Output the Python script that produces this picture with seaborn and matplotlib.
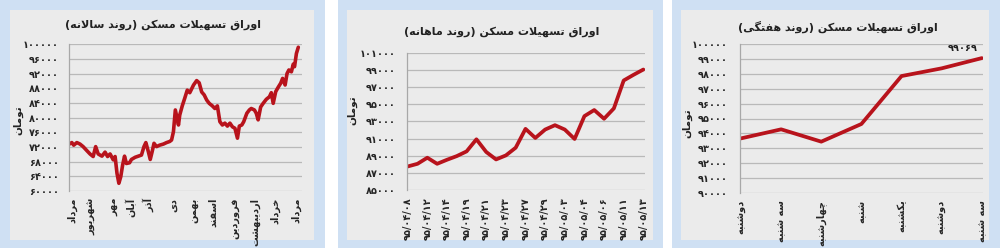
import matplotlib
matplotlib.use("Agg")
import matplotlib.pyplot as plt
from matplotlib.patches import Rectangle
import seaborn as sns
import pandas as pd

# ---------------- data ----------------
titles = ["اوراق تسهیلات مسکن (روند سالانه)",
          "اوراق تسهیلات مسکن (روند ماهانه)",
          "اوراق تسهیلات مسکن (روند هفتگی)"]
unit_label = "تومان"

# yearly panel (day offset, price)
year_days = [0, 4, 7, 12, 17, 22, 28, 33, 38, 42, 46, 52, 57, 61, 65, 70, 73, 76, 79, 82,
             85, 88, 91, 96, 99, 105, 110, 115, 119, 122, 126, 129, 132, 135, 139, 144, 150,
             155, 160, 163, 166, 169, 174, 176, 180, 184, 188, 192, 198, 203, 207, 211, 215,
             219, 223, 228, 232, 236, 240, 244, 248, 252, 256, 260, 264, 268, 271, 275, 278,
             283, 287, 290, 295, 298, 301, 305, 309, 314, 319, 322, 325, 329, 333, 337, 340,
             344, 347, 350, 354, 357, 359, 362, 365]
year_values = [72800, 73200, 72500, 73200, 72800, 72100, 71000, 70100, 69400, 72100, 70100,
               69500, 70600, 69400, 70100, 68500, 69400, 64800, 62100, 63900, 67100, 69500,
               67500, 67700, 68600, 69200, 69500, 69800, 72100, 73200, 70700, 68600, 70700,
               73000, 72100, 72500, 72800, 73200, 73500, 73900, 76200, 82100, 78000, 80700,
               83200, 85300, 87500, 86800, 88900, 90100, 89500, 87000, 86200, 84800, 83900,
               83200, 82500, 83200, 78900, 78000, 78500, 77700, 78500, 77500, 77100, 74400,
               77700, 78000, 78900, 81200, 82100, 82500, 82100, 81200, 79400, 82900, 83900,
               85000, 85700, 86800, 83900, 87100, 88300, 89400, 90700, 88900, 92000, 93000,
               92500, 94600, 93900, 97500, 99200]
year_tick_days = [4, 36, 70, 98, 127, 166, 198, 229, 264, 296, 328, 361]
year_tick_labels = ["مرداد", "شهریور", "مهر", "آبان", "آذر", "دی", "بهمن", "اسفند",
                    "فروردین", "اردیبهشت", "خرداد", "مرداد"]
year_yticks = [60000, 64000, 68000, 72000, 76000, 80000, 84000, 88000, 92000, 96000, 100000]

# monthly panel
month_values = [87750, 88060, 88770, 88060, 88530, 88960, 89510, 90920, 89440, 88570, 89040,
                89940, 92140, 91080, 92060, 92570, 92060, 90960, 93630, 94340, 93320, 94530,
                97790, 98450, 99069]
month_tick_labels = ["۹۵/۰۴/۰۸", "۹۵/۰۴/۱۲", "۹۵/۰۴/۱۴", "۹۵/۰۴/۱۹", "۹۵/۰۴/۲۱",
                     "۹۵/۰۴/۲۳", "۹۵/۰۴/۲۷", "۹۵/۰۴/۲۹", "۹۵/۰۵/۰۳", "۹۵/۰۵/۰۴",
                     "۹۵/۰۵/۰۶", "۹۵/۰۵/۱۱", "۹۵/۰۵/۱۳"]
month_yticks = [85000, 87000, 89000, 91000, 93000, 95000, 97000, 99000, 101000]

# weekly panel
week_days = ["دوشنبه", "سه شنبه", "چهارشنبه", "شنبه", "یکشنبه", "دوشنبه", "سه شنبه"]
week_values = [93660, 94270, 93440, 94630, 97860, 98380, 99069]
week_yticks = [90000, 91000, 92000, 93000, 94000, 95000, 96000, 97000, 98000, 99000, 100000]
last_label = 99069

# ---------------- simple Arabic shaping ----------------
FORMS = {
    '\u0627': ('\uFE8D', '\uFE8E', None, None),
    '\u0622': ('\uFE81', '\uFE82', None, None),
    '\u062F': ('\uFEA9', '\uFEAA', None, None),
    '\u0630': ('\uFEAB', '\uFEAC', None, None),
    '\u0631': ('\uFEAD', '\uFEAE', None, None),
    '\u0632': ('\uFEAF', '\uFEB0', None, None),
    '\u0698': ('\uFB8A', '\uFB8B', None, None),
    '\u0648': ('\uFEED', '\uFEEE', None, None),
    '\u0628': ('\uFE8F', '\uFE90', '\uFE91', '\uFE92'),
    '\u067E': ('\uFB56', '\uFB57', '\uFB58', '\uFB59'),
    '\u062A': ('\uFE95', '\uFE96', '\uFE97', '\uFE98'),
    '\u062B': ('\uFE99', '\uFE9A', '\uFE9B', '\uFE9C'),
    '\u062C': ('\uFE9D', '\uFE9E', '\uFE9F', '\uFEA0'),
    '\u0686': ('\uFB7A', '\uFB7B', '\uFB7C', '\uFB7D'),
    '\u062D': ('\uFEA1', '\uFEA2', '\uFEA3', '\uFEA4'),
    '\u062E': ('\uFEA5', '\uFEA6', '\uFEA7', '\uFEA8'),
    '\u0633': ('\uFEB1', '\uFEB2', '\uFEB3', '\uFEB4'),
    '\u0634': ('\uFEB5', '\uFEB6', '\uFEB7', '\uFEB8'),
    '\u0635': ('\uFEB9', '\uFEBA', '\uFEBB', '\uFEBC'),
    '\u0636': ('\uFEBD', '\uFEBE', '\uFEBF', '\uFEC0'),
    '\u0637': ('\uFEC1', '\uFEC2', '\uFEC3', '\uFEC4'),
    '\u0638': ('\uFEC5', '\uFEC6', '\uFEC7', '\uFEC8'),
    '\u0639': ('\uFEC9', '\uFECA', '\uFECB', '\uFECC'),
    '\u063A': ('\uFECD', '\uFECE', '\uFECF', '\uFED0'),
    '\u0641': ('\uFED1', '\uFED2', '\uFED3', '\uFED4'),
    '\u0642': ('\uFED5', '\uFED6', '\uFED7', '\uFED8'),
    '\u06A9': ('\uFB8E', '\uFB8F', '\uFB90', '\uFB91'),
    '\u06AF': ('\uFB92', '\uFB93', '\uFB94', '\uFB95'),
    '\u0644': ('\uFEDD', '\uFEDE', '\uFEDF', '\uFEE0'),
    '\u0645': ('\uFEE1', '\uFEE2', '\uFEE3', '\uFEE4'),
    '\u0646': ('\uFEE5', '\uFEE6', '\uFEE7', '\uFEE8'),
    '\u0647': ('\uFEE9', '\uFEEA', '\uFEEB', '\uFEEC'),
    '\u06CC': ('\uFBFC', '\uFBFD', '\uFBFE', '\uFBFF'),
}
LAMALEF = {'\u0627': ('\uFEFB', '\uFEFC'), '\u0622': ('\uFEF5', '\uFEF6')}


def _dual(c):
    return c in FORMS and FORMS[c][2] is not None


def rtl(s):
    out = []
    n = len(s)
    i = 0
    while i < n:
        c = s[i]
        if c not in FORMS:
            out.append(c)
            i += 1
            continue
        cp = i > 0 and _dual(s[i - 1])
        if c == '\u0644' and i + 1 < n and s[i + 1] in LAMALEF:
            iso, fin = LAMALEF[s[i + 1]]
            out.append(fin if cp else iso)
            i += 2
            continue
        cn = _dual(c) and i + 1 < n and s[i + 1] in FORMS
        iso, fin, ini, med = FORMS[c]
        if cp and cn:
            out.append(med)
        elif cp:
            out.append(fin)
        elif cn:
            out.append(ini)
        else:
            out.append(iso)
        i += 1
    vis = ''.join(reversed(out))
    return vis.translate(str.maketrans({'(': ')', ')': '('}))


FA_DIGITS = str.maketrans("0123456789", "۰۱۲۳۴۵۶۷۸۹")


def fa_num(v):
    return str(int(v)).translate(FA_DIGITS)


# ---------------- figure ----------------
sns.set_style("white")
plt.rcParams['font.family'] = ['DejaVu Sans']

W, H = 1000, 248
fig = plt.figure(figsize=(W / 100, H / 100), dpi=100)
fig.patch.set_facecolor("white")

FRAME = "#cfe0f3"
INNER = "#ebebeb"
GRID = "#b9b9b9"
RED = "#b8131c"


def px_rect(x0, y0, x1, y1, color):
    fig.add_artist(Rectangle((x0 / W, 1 - y1 / H), (x1 - x0) / W, (y1 - y0) / H,
                             transform=fig.transFigure, facecolor=color,
                             edgecolor="none", zorder=0))


def px_axes(x0, y0, x1, y1):
    return fig.add_axes([x0 / W, 1 - y1 / H, (x1 - x0) / W, (y1 - y0) / H])


for (ox0, ox1, ix0, ix1) in [(0, 325, 10, 314), (338, 663, 347, 653), (672, 1000, 681, 989)]:
    px_rect(ox0, 0, ox1, 248, FRAME)
    px_rect(ix0, 10, ix1, 240, INNER)

ax1 = px_axes(68.5, 44.3, 302, 191)
ax2 = px_axes(407, 53, 645, 190)
ax3 = px_axes(740, 44.3, 983, 192.7)


def style(ax, yticks, xpad):
    ax.set_facecolor("none")
    ax.set_yticks(yticks)
    ax.set_yticklabels([fa_num(v) for v in yticks], fontsize=7, fontweight="bold")
    ax.set_ylim(yticks[0], yticks[-1])
    ax.yaxis.grid(True, color=GRID, linewidth=0.9)
    ax.xaxis.grid(False)
    for side in ["top", "right", "bottom"]:
        ax.spines[side].set_visible(False)
    ax.spines["left"].set_color("#a8a8a8")
    ax.spines["left"].set_linewidth(0.9)
    ax.tick_params(axis="y", length=0, pad=xpad)
    ax.tick_params(axis="x", length=0, pad=5)
    ax.set_xlabel("")
    ax.set_ylabel("")
    ax.set_axisbelow(True)


# yearly
df1 = pd.DataFrame({"day": year_days, "price": year_values})
sns.lineplot(data=df1, x="day", y="price", ax=ax1, color=RED, linewidth=2.6)
style(ax1, year_yticks, 7)
ax1.set_xlim(-1.3, 370.9)
ax1.set_xticks(year_tick_days)
ax1.set_xticklabels([rtl(t) for t in year_tick_labels], rotation=90, fontsize=7,
                    fontweight="bold", va="top")

# monthly
df2 = pd.DataFrame({"idx": list(range(len(month_values))), "price": month_values})
sns.lineplot(data=df2, x="idx", y="price", ax=ax2, color=RED, linewidth=2.7)
style(ax2, month_yticks, 8)
ax2.set_xlim(-0.07, 24.17)
ax2.set_xticks(list(range(0, len(month_values), 2)))
ax2.set_xticklabels(month_tick_labels, rotation=90, fontsize=7, fontweight="bold", va="top")

# weekly
df3 = pd.DataFrame({"idx": list(range(len(week_values))), "price": week_values})
sns.lineplot(data=df3, x="idx", y="price", ax=ax3, color=RED, linewidth=2.7)
style(ax3, week_yticks, 9)
ax3.set_xlim(-0.025, 6.03)
ax3.set_xticks(list(range(len(week_values))))
ax3.set_xticklabels([rtl(t) for t in week_days], rotation=90, fontsize=7,
                    fontweight="bold", va="top")
ax3.annotate(fa_num(last_label), xy=(len(week_values) - 1, week_values[-1]),
             xytext=(-3, 4), textcoords="offset points", ha="right", va="bottom",
             fontsize=7, fontweight="bold", color="#222222")

# titles & unit labels
for (tx, ty), t in zip([(163, 25), (502, 32), (838, 27)], titles):
    fig.text(tx / W, 1 - ty / H, rtl(t), ha="center", va="center", fontsize=8,
             fontweight="bold", color="#222222")
for (ux, uy) in [(18, 120), (352, 110), (687, 123)]:
    fig.text(ux / W, 1 - uy / H, rtl(unit_label), ha="center", va="center", rotation=90,
             fontsize=7.5, fontweight="bold", color="#222222")

fig.savefig("out.png", dpi=100, facecolor=fig.get_facecolor())
